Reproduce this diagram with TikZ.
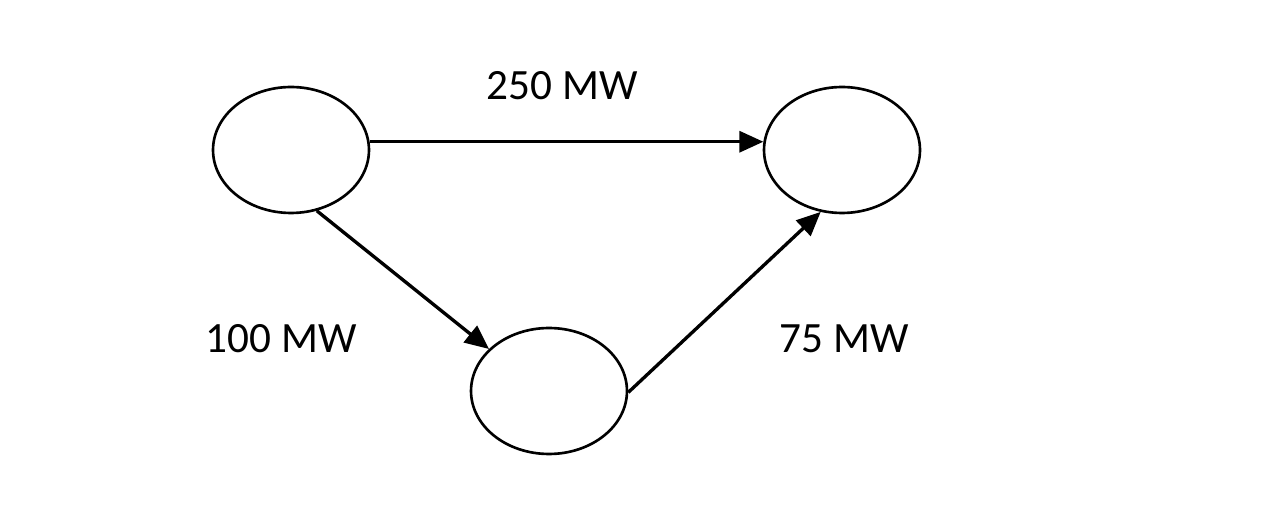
\documentclass[tikz,border=0pt]{standalone}
\usepackage{fontspec}
\setmainfont{Carlito}
\usetikzlibrary{shapes.geometric,arrows.meta}
\begin{document}
\begin{tikzpicture}[x=0.02cm,y=-0.02cm,
  bus/.style={draw,ellipse,line width=1.5pt,minimum width=3.12cm,minimum height=2.52cm,inner sep=0pt},
  flow/.style={line width=1.9pt,-{Triangle[length=0.48cm,width=0.42cm]}},
  lbl/.style={anchor=base,inner sep=0pt,font=\fontsize{24.6}{28}\selectfont}]
\useasboundingbox (0,0) rectangle (1284,516);
\node[bus] (A) at (291,150) {};
\node[bus] (B) at (842,150) {};
\node[bus] (C) at (549,391) {};
\draw[flow] (A.6) -- (B.174);
\draw[flow] (A.-67) -- (C.145);
\draw[flow] (C.-1) -- (B.251);
\node[lbl] (l1) at (562,100) {250 MW};
\node[lbl] (l2) at (281,353) {100 MW};
\node[lbl] (l3) at (844,353) {75 MW};
\end{tikzpicture}
\end{document}
